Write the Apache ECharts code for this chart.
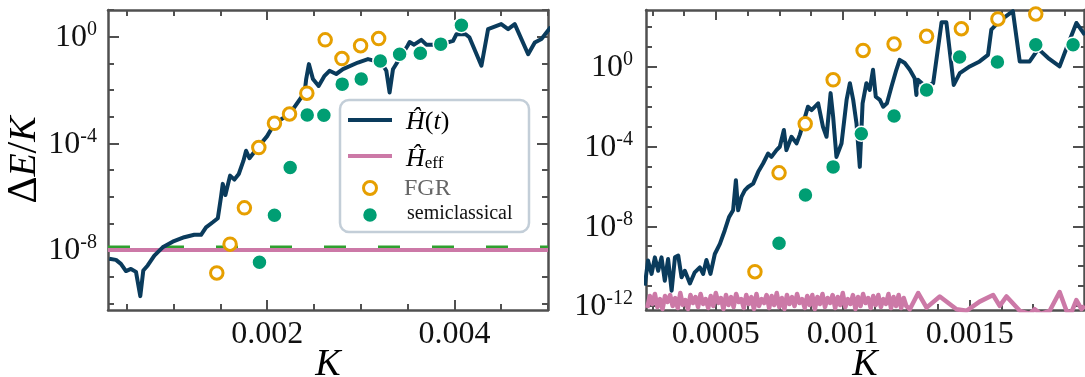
<!DOCTYPE html>
<html>
<head>
<meta charset="utf-8">
<script src="https://cdn.jsdelivr.net/npm/echarts@6/dist/echarts.min.js"></script>
<style>
  html, body { margin: 0; background: #fff; }
  #chart { width: 1085px; height: 377px; }
</style>
</head>
<body>
<div id="chart"></div>
<script>
// ---- left panel data (K, log10 of dE/K) ----
const leftHK = [0.000313, 0.000385, 0.000438, 0.000492, 0.000545, 0.000599, 0.000645, 0.000677, 0.000724, 0.000795,
  0.000884, 0.000991, 0.001115, 0.001222, 0.001294, 0.001347, 0.001419, 0.001473, 0.001508, 0.001526,
  0.001554, 0.001604, 0.00165, 0.001697, 0.001747, 0.001775, 0.001811, 0.0019, 0.002, 0.00208,
  0.00224, 0.0024, 0.002417, 0.002446, 0.002489, 0.00255, 0.002613, 0.002666, 0.002738, 0.00281,
  0.00297, 0.003077, 0.003219, 0.003273, 0.003308, 0.003344, 0.0035, 0.003522, 0.00357, 0.003647,
  0.0037, 0.00385, 0.003986, 0.004021, 0.00412, 0.00416, 0.004289, 0.00436, 0.0045, 0.004574,
  0.004645, 0.004788, 0.004859, 0.00493, 0.00503];
const leftHLog = [-8.33, -8.37, -8.52, -8.79, -8.71, -8.82, -9.73, -8.77, -8.58, -8.21,
  -7.90, -7.69, -7.52, -7.43, -7.43, -7.15, -6.96, -6.81, -5.99, -5.52,
  -5.94, -5.21, -5.36, -5.15, -4.65, -4.28, -4.56, -4.16, -3.73, -3.25,
  -2.9, -2.1, -1.59, -1.03, -1.59, -1.85, -1.47, -1.28, -1.40, -1.22,
  -0.97, -0.84, -0.97, -1.28, -2.09, -1.22, -0.34, -0.2, -0.3, -0.12,
  -0.3, -0.3, -0.16, 0.09, 0.09, -0.02, -1.09, 0.28, 0.47, 0.28,
  0.47, -0.66, -0.22, -0.09, 0.36];
const leftEffK = [0.0003, 0.005];
const leftEffLog = [-8.0, -8.0];
const leftDashK = [0.0003, 0.005];
const leftDashLog = [-7.89, -7.89];
const leftFgrK = [0.001462, 0.001604, 0.001757, 0.001911, 0.002078, 0.002239, 0.002424, 0.00262, 0.002799, 0.002998, 0.003191];
const leftFgrLog = [-8.86, -7.78, -6.42, -4.16, -3.25, -2.90, -2.12, -0.12, -0.82, -0.34, -0.07];
const leftSemiK = [0.001918, 0.002078, 0.002246, 0.002428, 0.002606, 0.002802, 0.003005, 0.003209, 0.003415, 0.003636, 0.003854, 0.004075];
const leftSemiLog = [-8.46, -6.70, -4.91, -2.94, -2.95, -1.78, -1.59, -0.91, -0.66, -0.62, -0.28, 0.43];

// ---- right panel data ----
const rightHK = [0.00022, 0.000233, 0.000247, 0.00026, 0.000273, 0.000286, 0.000299, 0.000312, 0.000326, 0.000339,
  0.000352, 0.000365, 0.000378, 0.000398, 0.000417, 0.000437, 0.00045, 0.000463, 0.000479, 0.000496,
  0.000516, 0.000535, 0.000552, 0.000568, 0.000579, 0.000588, 0.000601, 0.000614, 0.000627, 0.000647,
  0.000667, 0.000686, 0.000706, 0.000719, 0.000739, 0.000752, 0.000768, 0.000778, 0.000798, 0.000818,
  0.000831, 0.000863, 0.000877, 0.000903, 0.000922, 0.000936, 0.000952, 0.000962, 0.000975, 0.000995,
  0.001015, 0.001028, 0.001041, 0.001054, 0.001067, 0.001078, 0.001093, 0.001106, 0.001119, 0.00113,
  0.001146, 0.001159, 0.001174, 0.001192, 0.001211, 0.001224, 0.001244, 0.001264, 0.001283, 0.00129,
  0.001296, 0.001327, 0.001356, 0.001389, 0.001408, 0.001437, 0.001461, 0.0015, 0.001539, 0.001572,
  0.001585, 0.001618, 0.00167, 0.001697, 0.001736, 0.00177, 0.001809, 0.001854, 0.001881, 0.00192, 0.001953];
const rightHLog = [-10.98, -9.72, -10.39, -9.56, -10.23, -9.56, -10.73, -9.64, -11.23, -9.56,
  -9.47, -10.56, -10.23, -10.87, -10.31, -10.06, -10.39, -9.69, -10.39, -9.39,
  -8.88, -8.21, -7.54, -7.2, -5.69, -7.2, -6.53, -6.2, -6.03, -5.86,
  -5.27, -4.85, -4.35, -4.52, -4.18, -4.01, -3.17, -4.18, -3.51, -3.84,
  -3.4, -2.0, -2.17, -1.83, -3.01, -3.51, -1.32, -2.5, -4.52, -3.85,
  -1.66, -0.82, -1.66, -2.84, -5.02, -1.83, -0.82, -1.16, -0.15, -1.5,
  -1.66, -2.0, -1.83, -0.99, -0.15, 0.35, 0.19, -0.15, -0.57, -1.41,
  -0.65, -1.0, -0.82, 2.23, 2.23, -0.91, -0.32, 0.02, 0.27, 0.6,
  1.86, 2.3, 2.79, 0.27, 0.27, 0.9, 0.44, 0.02, 0.93, 2.2, 1.6];
const rightEffK = [0.00023, 0.00024, 0.00025, 0.00026, 0.00027, 0.00028, 0.00029, 0.0003, 0.00031, 0.00032,
  0.00033, 0.00034, 0.00035, 0.00036, 0.00037, 0.00038, 0.00039, 0.0004, 0.00041, 0.00042,
  0.00043, 0.00044, 0.00045, 0.00046, 0.00047, 0.00048, 0.00049, 0.0005, 0.00051, 0.00052,
  0.00053, 0.00054, 0.00055, 0.00056, 0.00057, 0.00058, 0.00059, 0.0006, 0.00061, 0.00062,
  0.00063, 0.00064, 0.00065, 0.00066, 0.00067, 0.00068, 0.00069, 0.0007, 0.00071, 0.00072,
  0.00073, 0.00074, 0.00075, 0.00076, 0.00077, 0.00078, 0.00079, 0.0008, 0.00081, 0.00082,
  0.00083, 0.00084, 0.00085, 0.00086, 0.00087, 0.00088, 0.00089, 0.0009, 0.00091, 0.00092,
  0.00093, 0.00094, 0.00095, 0.00096, 0.00097, 0.00098, 0.00099, 0.001, 0.00101, 0.00102,
  0.00103, 0.00104, 0.00105, 0.00106, 0.00107, 0.00108, 0.00109, 0.0011, 0.00111, 0.00112,
  0.00113, 0.00114, 0.00115, 0.00116, 0.00117, 0.00118, 0.00119, 0.0012, 0.00121, 0.00122,
  0.00123, 0.00124, 0.00125, 0.001264, 0.001297, 0.00133, 0.001382, 0.001448, 0.001487, 0.001539,
  0.001592, 0.001618, 0.001645, 0.001697, 0.001736, 0.001756, 0.00178, 0.001815, 0.001854, 0.001881,
  0.0019, 0.00192, 0.00194, 0.001953];
const rightEffLog = [-12.1, -11.5, -11.9, -11.4, -12.05, -11.65, -12.15, -11.5, -11.8, -11.45,
  -12.0, -11.6, -12.1, -11.35, -11.95, -11.7, -12.15, -11.45, -11.85, -11.55,
  -12.05, -11.4, -11.9, -11.65, -12.1, -11.5, -12.0, -11.35, -11.85, -11.6,
  -12.15, -11.45, -11.95, -11.55, -12.05, -11.4, -11.8, -11.65, -12.1, -11.45,
  -11.9, -11.55, -12.15, -11.4, -12.0, -11.65, -11.85, -11.45, -12.1, -11.5,
  -11.95, -11.35, -12.05, -11.6, -12.15, -11.45, -11.9, -11.55, -12.0, -11.4,
  -11.85, -11.65, -12.1, -11.5, -11.95, -11.45, -12.15, -11.55, -11.9, -11.4,
  -12.05, -11.6, -11.85, -11.45, -12.1, -11.55, -11.95, -11.35, -12.05, -11.65,
  -11.9, -11.45, -12.15, -11.55, -12.0, -11.4, -11.85, -11.6, -12.1, -11.5,
  -11.95, -11.45, -12.05, -11.65, -11.9, -11.4, -12.1, -11.55, -12.0, -11.45,
  -12.1, -11.6, -12.0, -12.16, -11.35, -12.08, -11.52, -12.16, -12.24, -11.78,
  -11.45, -11.99, -11.52, -12.24, -12.4, -12.16, -12.4, -12.24, -11.3, -12.24,
  -12.33, -11.7, -12.16, -11.99];
const rightFgrK = [0.000654, 0.000749, 0.000852, 0.000962, 0.00108, 0.001202, 0.00133, 0.001467, 0.001611, 0.00176];
const rightFgrLog = [-10.28, -5.32, -2.86, -0.65, 0.82, 1.14, 1.53, 1.91, 2.40, 2.65];
const rightSemiK = [0.000749, 0.000853, 0.000962, 0.001073, 0.001202, 0.00133, 0.00146, 0.001609, 0.00176, 0.001907];
const rightSemiLog = [-8.85, -6.43, -5.02, -3.36, -2.47, -1.16, 0.49, 0.24, 1.11, 1.11];

// ---- axes ticks ----
const leftXMajor = [0.002, 0.004];
const leftXLabels = ['0.002', '0.004'];
const leftXMinor = [0.0005, 0.001, 0.0015, 0.0025, 0.003, 0.0035, 0.0045, 0.005];
const leftYMajorExp = [0, -4, -8];
const leftYMinorExp = [1, -1, -2, -3, -5, -6, -7, -9, -10];
const rightXMajor = [0.0005, 0.001, 0.0015];
const rightXLabels = ['0.0005', '0.001', '0.0015'];
const rightXMinor = [0.00025, 0.000375, 0.000625, 0.00075, 0.000875, 0.001125, 0.00125, 0.001375, 0.001625, 0.00175, 0.001875];
const rightYMajorExp = [0, -4, -8, -12];
const rightYMinorExp = [2, 1, -1, -2, -3, -5, -6, -7, -9, -10, -11];

const NAVY = '#0a3b5c', PINK = '#cc79a7', ORANGE = '#e69f00', GREEN = '#009e73', DASH = '#2fa02f';
const AX = '#505050';
const SERIF = "'Liberation Serif', 'DejaVu Serif', serif";

const pow10 = e => Math.pow(10, e);
const pairs = (ks, logs) => ks.map((k, i) => [k, pow10(logs[i])]);

function xAxes(grid, min, max, major, minor, labels) {
  const base = { type: 'value', gridIndex: grid, min: min, max: max, splitLine: { show: false } };
  const line = { show: true, onZero: false, lineStyle: { color: AX, width: 2.5 } };
  const tick = (vals, len) => ({ show: true, inside: true, length: len, customValues: vals, lineStyle: { color: AX, width: 2 } });
  return [
    Object.assign({}, base, {
      position: 'bottom', axisLine: line, axisTick: tick(major, 10),
      axisLabel: {
        customValues: major, margin: 9, color: '#111', fontFamily: SERIF, fontSize: 32,
        formatter: v => { const i = major.indexOf(v); return i >= 0 ? labels[i] : String(v); }
      }
    }),
    Object.assign({}, base, { position: 'bottom', axisLine: { show: false }, axisTick: tick(minor, 6), axisLabel: { show: false } }),
    Object.assign({}, base, { position: 'top', axisLine: line, axisTick: tick(major, 10), axisLabel: { show: false } }),
    Object.assign({}, base, { position: 'top', axisLine: { show: false }, axisTick: tick(minor, 6), axisLabel: { show: false } })
  ];
}

function yAxes(grid, minExp, maxExp, majorExp, minorExp, margin) {
  const base = { type: 'log', logBase: 10, gridIndex: grid, min: pow10(minExp), max: pow10(maxExp), splitLine: { show: false } };
  const line = { show: true, onZero: false, lineStyle: { color: AX, width: 2.5 } };
  const major = majorExp.map(pow10), minor = minorExp.map(pow10);
  const tick = (vals, len) => ({ show: true, inside: true, length: len, customValues: vals, lineStyle: { color: AX, width: 2 } });
  return [
    Object.assign({}, base, {
      position: 'left', axisLine: line, axisTick: tick(major, 11),
      axisLabel: {
        customValues: major, margin: margin,
        formatter: v => '{b|10}{s|' + Math.round(Math.log10(v)) + '}',
        rich: {
          b: { fontFamily: SERIF, fontSize: 32, color: '#111', lineHeight: 34, verticalAlign: 'bottom' },
          s: { fontFamily: SERIF, fontSize: 20, color: '#111', lineHeight: 20, verticalAlign: 'top' }
        }
      }
    }),
    Object.assign({}, base, { position: 'left', axisLine: { show: false }, axisTick: tick(minor, 6), axisLabel: { show: false } }),
    Object.assign({}, base, { position: 'right', axisLine: line, axisTick: tick(major, 11), axisLabel: { show: false } }),
    Object.assign({}, base, { position: 'right', axisLine: { show: false }, axisTick: tick(minor, 6), axisLabel: { show: false } })
  ];
}

function lineSeries(x, y, ks, logs, color, width, dash) {
  return {
    type: 'line', xAxisIndex: x, yAxisIndex: y, data: pairs(ks, logs),
    showSymbol: false, symbol: 'none', silent: true,
    lineStyle: { color: color, width: width, type: dash || 'solid', join: 'round', cap: 'butt' }
  };
}
function fgrSeries(x, y, ks, logs) {
  return {
    type: 'scatter', xAxisIndex: x, yAxisIndex: y, data: pairs(ks, logs), symbol: 'circle', symbolSize: 12.5,
    itemStyle: { color: '#fff', borderColor: ORANGE, borderWidth: 3, opacity: 1 }, z: 5
  };
}
function semiSeries(x, y, ks, logs) {
  return {
    type: 'scatter', xAxisIndex: x, yAxisIndex: y, data: pairs(ks, logs), symbol: 'circle', symbolSize: 15,
    itemStyle: { color: GREEN, borderColor: '#fff', borderWidth: 1.5, opacity: 1 }, z: 6
  };
}

const chart = echarts.init(document.getElementById('chart'), null, { renderer: 'canvas' });

const legendRich = {
  i: { fontFamily: SERIF, fontStyle: 'italic', fontSize: 26, color: '#111', lineHeight: 30, verticalAlign: 'bottom' },
  n: { fontFamily: SERIF, fontSize: 26, color: '#111', lineHeight: 30, verticalAlign: 'bottom' },
  sub: { fontFamily: SERIF, fontSize: 17, color: '#111', lineHeight: 22, verticalAlign: 'bottom' }
};
const titleStyle = (txt) => ({
  text: txt,
  rich: {
    n: { fontFamily: SERIF, fontSize: 42, color: '#111' },
    i: { fontFamily: SERIF, fontStyle: 'italic', fontSize: 38, color: '#111' }
  },
  align: 'center', verticalAlign: 'middle', textAlign: 'center', textVerticalAlign: 'middle'
});

const option = {
  animation: false,
  backgroundColor: '#fff',
  grid: [
    { left: 108, top: 10, width: 440, height: 300, containLabel: false, outerBoundsMode: 'none' },
    { left: 646, top: 10, width: 438, height: 300, containLabel: false, outerBoundsMode: 'none' }
  ],
  xAxis: xAxes(0, 0.0003, 0.005, leftXMajor, leftXMinor, leftXLabels)
    .concat(xAxes(1, 0.000225, 0.00195, rightXMajor, rightXMinor, rightXLabels)),
  yAxis: yAxes(0, -10.25, 1, leftYMajorExp, leftYMinorExp, 11)
    .concat(yAxes(1, -12.2, 2.85, rightYMajorExp, rightYMinorExp, 13)),
  series: [
    lineSeries(0, 0, leftDashK, leftDashLog, DASH, 3, [22, 32]),
    lineSeries(0, 0, leftEffK, leftEffLog, PINK, 4),
    lineSeries(0, 0, leftHK, leftHLog, NAVY, 4),
    fgrSeries(0, 0, leftFgrK, leftFgrLog),
    semiSeries(0, 0, leftSemiK, leftSemiLog),
    lineSeries(4, 4, rightHK, rightHLog, NAVY, 4),
    lineSeries(4, 4, rightEffK, rightEffLog, PINK, 4.5),
    fgrSeries(4, 4, rightFgrK, rightFgrLog),
    semiSeries(4, 4, rightSemiK, rightSemiLog)
  ],
  graphic: [
    { type: 'text', x: 25, y: 160, rotation: Math.PI / 2, z: 50,
      style: titleStyle('{n|Δ}{i|E}{n|/}{i|K}') },
    { type: 'text', x: 328, y: 365, z: 50, style: titleStyle('{i|K}') },
    { type: 'text', x: 865, y: 365, z: 50, style: titleStyle('{i|K}') },
    { type: 'rect', z: 100, shape: { x: 340, y: 100, width: 189, height: 132, r: 9 },
      style: { fill: '#fff', stroke: '#c3ced8', lineWidth: 2.5 } },
    { type: 'line', z: 101, shape: { x1: 348, y1: 120, x2: 392, y2: 120 }, style: { stroke: NAVY, lineWidth: 4 } },
    { type: 'text', z: 101, x: 406, y: 120,
      style: { text: '{i|Ĥ}{n|(}{i|t}{n|)}', rich: legendRich, verticalAlign: 'middle', textVerticalAlign: 'middle' } },
    { type: 'line', z: 101, shape: { x1: 348, y1: 156, x2: 392, y2: 156 }, style: { stroke: PINK, lineWidth: 4 } },
    { type: 'text', z: 101, x: 406, y: 157,
      style: { text: '{i|Ĥ}{sub|eff}', rich: legendRich, verticalAlign: 'middle', textVerticalAlign: 'middle' } },
    { type: 'circle', z: 101, shape: { cx: 370, cy: 188, r: 6.5 }, style: { fill: '#fff', stroke: ORANGE, lineWidth: 3 } },
    { type: 'text', z: 101, x: 404, y: 189,
      style: { text: 'FGR', fontFamily: SERIF, fontSize: 24, fill: '#666', verticalAlign: 'middle', textVerticalAlign: 'middle' } },
    { type: 'circle', z: 101, shape: { cx: 370, cy: 215, r: 7.5 }, style: { fill: GREEN, stroke: '#fff', lineWidth: 1.5 } },
    { type: 'text', z: 101, x: 407, y: 214,
      style: { text: 'semiclassical', fontFamily: SERIF, fontSize: 20, fill: '#111', verticalAlign: 'middle', textVerticalAlign: 'middle' } }
  ]
};

chart.setOption(option);
</script>
</body>
</html>
